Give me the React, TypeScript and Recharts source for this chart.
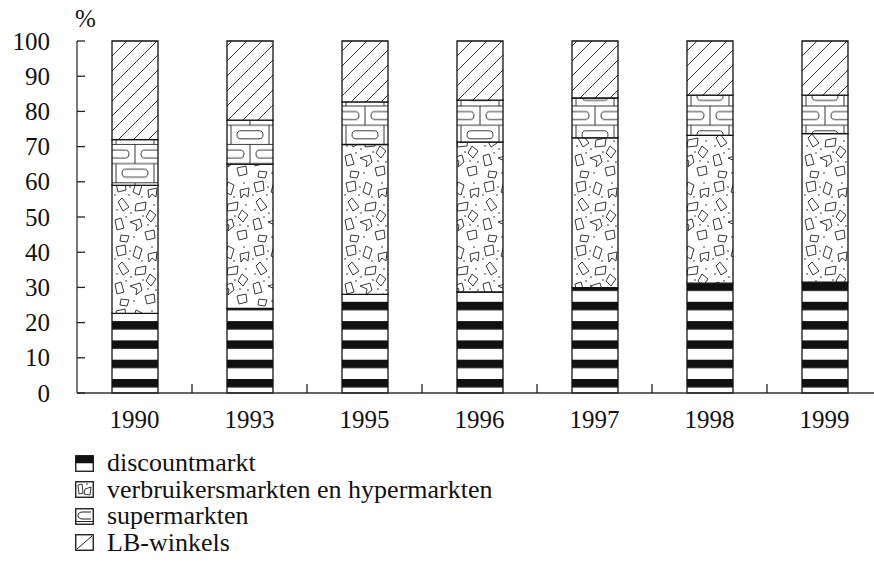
import { BarChart, Bar, XAxis, YAxis } from "recharts";

const years = ["1990", "1993", "1995", "1996", "1997", "1998", "1999"];
const discountmarkt = [22.6, 24.0, 28.0, 28.7, 29.9, 31.2, 31.5];
const verbruikersmarkten = [36.4, 41.0, 42.6, 42.6, 42.6, 42.0, 42.2];
const supermarkten = [13.0, 12.5, 12.1, 11.9, 11.3, 11.4, 10.9];
const lbWinkels = [28.0, 22.5, 17.3, 16.8, 16.2, 15.4, 15.4];
const yTicks = [0, 10, 20, 30, 40, 50, 60, 70, 80, 90, 100];
const seriesNames = [
  "discountmarkt",
  "verbruikersmarkten en hypermarkten",
  "supermarkten",
  "LB-winkels",
];

const data = years.map((year, i) => ({
  year,
  discount: discountmarkt[i],
  verbruikers: verbruikersmarkten[i],
  super: supermarkten[i],
  lb: lbWinkels[i],
}));

const CHART_W = 900;
const CHART_H = 564;
const Y_W = 77;
const RIGHT = 18;
const SLOT = (CHART_W - Y_W - RIGHT) / years.length;
const FONT = "'Liberation Serif', 'Times New Roman', serif";
const INK = "#111";

// brick rows keep a fixed vertical phase, centred horizontally on each bar
const BRICK_W = 38;
const BRICK_H = 19.2;
const BRICK_Y0 = 125.2;

function YTick(props: any) {
  const { x, y, payload } = props;
  return (
    <g>
      <line x1={x} x2={x + 8} y1={y} y2={y} stroke="#222" strokeWidth={1.3} />
      <text x={x - 27} y={y} textAnchor="end" dominantBaseline="central" fontFamily={FONT} fontSize={25} fill={INK}>
        {payload.value}
      </text>
    </g>
  );
}

function XTick(props: any) {
  const { x, y, payload, index } = props;
  return (
    <g>
      {index > 0 && (
        <line x1={x - SLOT / 2} x2={x - SLOT / 2} y1={y} y2={y - 9} stroke="#222" strokeWidth={1.3} />
      )}
      <text x={x} y={y + 26} textAnchor="middle" dominantBaseline="central" fontFamily={FONT} fontSize={25} fill={INK}>
        {payload.value}
      </text>
    </g>
  );
}

function BrickTile() {
  const s = { stroke: "#222", strokeWidth: 0.9, fill: "none" };
  return (
    <>
      <rect width={BRICK_W} height={BRICK_H * 2} fill="#fff" />
      <line x1={0} x2={BRICK_W} y1={0} y2={0} {...s} />
      <line x1={0} x2={BRICK_W} y1={BRICK_H * 2} y2={BRICK_H * 2} {...s} />
      <line x1={0} x2={0} y1={0} y2={BRICK_H} {...s} />
      <line x1={BRICK_W} x2={BRICK_W} y1={0} y2={BRICK_H} {...s} />
      <rect x={6} y={5.6} width={26} height={8} rx={4} {...s} />
      <line x1={0} x2={BRICK_W} y1={BRICK_H} y2={BRICK_H} {...s} />
      <line x1={BRICK_W / 2} x2={BRICK_W / 2} y1={BRICK_H} y2={BRICK_H * 2} {...s} />
      <rect x={-13} y={BRICK_H + 5.6} width={26} height={8} rx={4} {...s} />
      <rect x={BRICK_W - 13} y={BRICK_H + 5.6} width={26} height={8} rx={4} {...s} />
    </>
  );
}

function BrickShape(props: any) {
  const { x, y, width, height, index } = props;
  const id = `brick-${index}`;
  const cx = x + width / 2;
  return (
    <g>
      <defs>
        <pattern id={id} patternUnits="userSpaceOnUse" x={cx - BRICK_W / 2} y={BRICK_Y0} width={BRICK_W} height={BRICK_H * 2}>
          <BrickTile />
        </pattern>
      </defs>
      <rect x={x} y={y} width={width} height={height} fill={`url(#${id})`} stroke={INK} strokeWidth={1.3} />
    </g>
  );
}

const shards = [
  "M4,3 L13,1 L14,10 L6,12 Z",
  "M24,2 L30,5 L27,15 L21,12 Z",
  "M36,10 L45,8 L44,17 L40,14 L37,18 Z",
  "M6,22 L10,18 L17,27 L11,31 Z",
  "M24,24 L34,22 L33,30 L23,31 Z",
  "M38,30 L44,35 L39,42 L34,37 Z",
  "M3,40 L9,38 L12,48 L5,50 Z",
  "M18,42 L28,39 L30,46 L24,51 L25,45 Z",
  "M33,52 L42,50 L43,58 L35,60 Z",
  "M9,55 L17,56 L15,62 L8,61 Z",
];
const dots = [
  [18, 7], [40, 3], [3, 15], [30, 17], [19, 33], [42, 25],
  [14, 37], [31, 36], [5, 30], [22, 57], [44, 46], [36, 45], [17, 15],
];

function ShardTile() {
  return (
    <>
      <rect width={46} height={64} fill="#fff" />
      {shards.map((d, i) => (
        <path key={i} d={d} fill="#fff" stroke="#222" strokeWidth={0.9} />
      ))}
      {dots.map(([cx, cy], i) => (
        <circle key={i} cx={cx} cy={cy} r={0.8} fill="#222" />
      ))}
    </>
  );
}

function LegendIcon({ kind }: { kind: number }) {
  return (
    <svg width={19} height={17} style={{ display: "block" }}>
      <rect x={0.75} y={0.75} width={17.5} height={15.5} fill="#fff" stroke={INK} strokeWidth={1.3} />
      {kind === 0 && <rect x={0.75} y={0.75} width={17.5} height={7.5} fill={INK} />}
      {kind === 1 && (
        <>
          <path d="M3,4 L7,3 L8,12 L4,13 Z" fill="none" stroke="#222" strokeWidth={0.9} />
          <path d="M10,8 L16,6 L15,14 L9,13 Z" fill="none" stroke="#222" strokeWidth={0.9} />
          <circle cx={12} cy={3} r={0.8} fill="#222" />
        </>
      )}
      {kind === 2 && (
        <>
          <path d="M16,4 L8,4 Q3,4 3,7.5 Q3,11 8,11 L16,11" fill="none" stroke="#222" strokeWidth={1} />
          <line x1={1} x2={18} y1={13.5} y2={13.5} stroke="#222" strokeWidth={1} />
        </>
      )}
      {kind === 3 && <line x1={2} x2={17} y1={15} y2={2} stroke="#222" strokeWidth={1} />}
    </svg>
  );
}

export default function App() {
  return (
    <div style={{ position: "fixed", left: 0, top: 0, width: 874, height: 564, overflow: "hidden", background: "#fff" }}>
      <BarChart
        width={CHART_W}
        height={CHART_H}
        data={data}
        margin={{ top: 41, right: RIGHT, bottom: 131, left: 0 }}
        barCategoryGap={0}
      >
        <defs>
          <pattern id="discountFill" patternUnits="userSpaceOnUse" x={0} y={379} width={10} height={19.3}>
            <rect width={10} height={19.3} fill="#fff" />
            <rect width={10} height={8.5} fill={INK} />
          </pattern>
          <pattern id="shardFill" patternUnits="userSpaceOnUse" x={112} y={180} width={46} height={64}>
            <ShardTile />
          </pattern>
          <pattern id="hatchFill" patternUnits="userSpaceOnUse" x={112} y={41} width={15} height={15}>
            <rect width={15} height={15} fill="#fff" />
            <path d="M0,15 L15,0 M-1,1 L1,-1 M14,16 L16,14" stroke="#222" strokeWidth={0.9} />
          </pattern>
        </defs>
        <XAxis
          dataKey="year"
          height={40}
          interval={0}
          tickSize={0}
          tickMargin={0}
          tickLine={false}
          axisLine={{ stroke: "#333", strokeWidth: 1.3 }}
          tick={XTick}
        />
        <YAxis
          width={Y_W}
          domain={[0, 100]}
          ticks={yTicks}
          interval={0}
          tickSize={0}
          tickMargin={0}
          tickLine={false}
          axisLine={{ stroke: "#333", strokeWidth: 1.3 }}
          tick={YTick}
        />
        <Bar dataKey="discount" name={seriesNames[0]} stackId="a" barSize={46} fill="url(#discountFill)" stroke={INK} strokeWidth={1.3} isAnimationActive={false} />
        <Bar dataKey="verbruikers" name={seriesNames[1]} stackId="a" barSize={46} fill="url(#shardFill)" stroke={INK} strokeWidth={1.3} isAnimationActive={false} />
        <Bar dataKey="super" name={seriesNames[2]} stackId="a" barSize={46} shape={BrickShape} isAnimationActive={false} />
        <Bar dataKey="lb" name={seriesNames[3]} stackId="a" barSize={46} fill="url(#hatchFill)" stroke={INK} strokeWidth={1.3} isAnimationActive={false} />
      </BarChart>
      <div style={{ position: "absolute", left: 75, top: 6, fontFamily: FONT, fontSize: 25, lineHeight: "25px", color: INK }}>%</div>
      <div style={{ position: "absolute", left: 75, top: 450, fontFamily: FONT, fontSize: 26, color: INK }}>
        {seriesNames.map((name, i) => (
          <div key={name} style={{ display: "flex", alignItems: "center", height: 26.5, gap: 13 }}>
            <LegendIcon kind={i} />
            <span style={{ lineHeight: "26px" }}>{name}</span>
          </div>
        ))}
      </div>
    </div>
  );
}
